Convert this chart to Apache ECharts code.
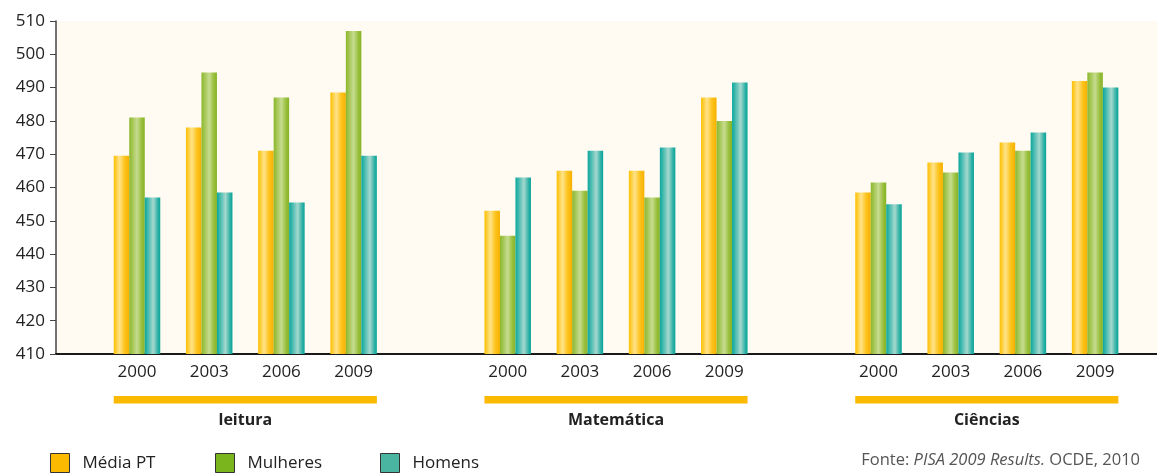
<!DOCTYPE html>
<html>
<head>
<meta charset="utf-8">
<script src="https://cdn.jsdelivr.net/npm/echarts@6/dist/echarts.min.js"></script>
<style>
html,body{margin:0;padding:0;background:#fff;}
#chart{width:1157px;height:474px;}
</style>
</head>
<body>
<div id="chart"></div>
<script>
// ---- data ----
const years = ['2000', '2003', '2006', '2009'];
const subjects = ['leitura', 'Matemática', 'Ciências'];
const seriesNames = ['Média PT', 'Mulheres', 'Homens'];
const yMin = 410, yMax = 510, yStep = 10;

const leituraMedia    = [469.5, 478, 471, 488.5];
const leituraMulheres = [481, 494.5, 487, 507];
const leituraHomens   = [457, 458.5, 455.5, 469.5];

const matMedia    = [453, 465, 465, 487];
const matMulheres = [445.5, 459, 457, 480];
const matHomens   = [463, 471, 472, 491.5];

const ciMedia    = [458.5, 467.5, 473.5, 492];
const ciMulheres = [461.5, 464.5, 471, 494.5];
const ciHomens   = [455, 470.5, 476.5, 490];

const groupData = [
  [leituraMedia, leituraMulheres, leituraHomens],
  [matMedia, matMulheres, matHomens],
  [ciMedia, ciMulheres, ciHomens]
];

// ---- styles ----
const FONT = '"Open Sans", "Noto Sans", sans-serif';
const flatColors = ['#FBB900', '#7AB51D', '#4AB5A0'];
function grad(stops) {
  return new echarts.graphic.LinearGradient(0, 0, 1, 0,
    stops.map(s => ({offset: s[0], color: s[1]})));
}
const barColors = [
  grad([[0, '#FCBF00'], [0.38, '#FFE38A'], [0.7, '#FDC41E'], [1, '#F6B000']]),
  grad([[0, '#8BB72A'], [0.5, '#C7DC90'], [0.8, '#99BF3C'], [1, '#86B327']]),
  grad([[0, '#0AA79C'], [0.55, '#A5D8CE'], [0.85, '#2FB0A5'], [1, '#06A499']])
];

const BAR_W = 15.5;
const TOP = 21, BOTTOM = 120;
const barGrids = [
  {left: 100.9, width: 288.8},
  {left: 471.6, width: 288.8},
  {left: 842.4, width: 288.8}
];
const legendLefts = [50, 215, 380];

const grids = [{left: 56, right: 0, top: TOP, bottom: BOTTOM, show: true,
  backgroundColor: '#FFFBF2', borderWidth: 0}];
const xAxes = [{type: 'category', gridIndex: 0, data: [''],
  axisLine: {lineStyle: {color: '#1a1a1a', width: 2}},
  axisTick: {show: false}, axisLabel: {show: false}, splitLine: {show: false}}];
const yAxes = [{type: 'value', gridIndex: 0, min: yMin, max: yMax, interval: yStep,
  axisLine: {show: true, lineStyle: {color: '#444', width: 1.5}},
  axisTick: {show: true, length: 6, lineStyle: {color: '#444'}},
  axisLabel: {color: '#222', fontSize: 17, fontFamily: FONT, margin: 11},
  splitLine: {show: false}}];
const series = [];

barGrids.forEach((g, i) => {
  grids.push({left: g.left, width: g.width, top: TOP, bottom: BOTTOM});
  xAxes.push({type: 'category', gridIndex: i + 1, data: years,
    axisLine: {show: false}, axisTick: {show: false},
    axisLabel: {color: '#222', fontSize: 17, fontFamily: FONT, margin: 10},
    name: subjects[i], nameLocation: 'middle', nameGap: 58,
    nameTextStyle: {color: '#222', fontSize: 16, fontWeight: 'bold', fontFamily: FONT}});
  yAxes.push({type: 'value', gridIndex: i + 1, min: yMin, max: yMax, interval: yStep, show: false});
  groupData[i].forEach((arr, k) => {
    series.push({
      name: seriesNames[k], type: 'bar', xAxisIndex: i + 1, yAxisIndex: i + 1,
      data: arr, barWidth: BAR_W, barGap: '0%',
      itemStyle: {color: barColors[k]},
      emphasis: {disabled: true}
    });
  });
});

const legends = seriesNames.map((n, k) => ({
  left: legendLefts[k], top: 453, padding: 0,
  icon: 'rect', itemWidth: 19, itemHeight: 19,
  data: [{name: n, itemStyle: {color: flatColors[k], borderColor: '#333', borderWidth: 1}}],
  textStyle: {color: '#222', fontSize: 17, fontFamily: FONT, padding: [0, 0, 0, 8]}
}));

const chart = echarts.init(document.getElementById('chart'), null, {renderer: 'canvas'});
chart.setOption({
  animation: false,
  grid: grids,
  xAxis: xAxes,
  yAxis: yAxes,
  series: series,
  legend: legends,
  title: {
    right: 17, top: 452, padding: 0,
    text: '{a|Fonte: }{b|PISA 2009 Results.}{a| OCDE, 2010}',
    textStyle: {fontWeight: 'normal', rich: {
      a: {color: '#555', fontSize: 16.5, fontFamily: FONT, fontWeight: 'normal'},
      b: {color: '#555', fontSize: 16.5, fontFamily: FONT, fontStyle: 'italic', fontWeight: 'normal'}
    }}
  }
});

// orange bands under each subject, located from the axes
const graphics = [];
barGrids.forEach((g, i) => {
  const x0 = chart.convertToPixel({xAxisIndex: i + 1}, years[0]) - BAR_W * 1.5;
  const x1 = chart.convertToPixel({xAxisIndex: i + 1}, years[years.length - 1]) + BAR_W * 1.5;
  graphics.push({type: 'rect', shape: {x: x0, y: 396, width: x1 - x0, height: 7.5},
    style: {fill: '#FBB900'}, silent: true});
});
chart.setOption({graphic: graphics});
</script>
</body>
</html>
